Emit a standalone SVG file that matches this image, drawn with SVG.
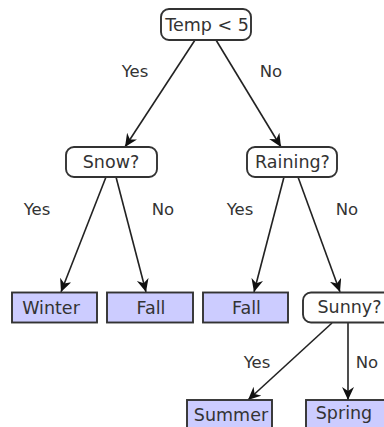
<svg xmlns="http://www.w3.org/2000/svg" width="384" height="427" viewBox="0 0 384 427">
<defs>
<style>
.dec{fill:#ffffff;stroke:#333333;stroke-width:1.9}
.leaf{fill:#ccccff;stroke:#333333;stroke-width:1.9}
text{font-family:"DejaVu Sans","Bitstream Vera Sans",sans-serif;font-size:17.5px;fill:#333333;text-anchor:middle;dominant-baseline:central}
.lbl{font-size:16.5px}
.edge{stroke:#222222;stroke-width:1.6;fill:none;marker-end:url(#ah)}
</style>
<marker id="ah" markerWidth="16" markerHeight="14" refX="13" refY="6" orient="auto" markerUnits="userSpaceOnUse">
<path d="M0,0 L13,6 L0,12 L4,6 z" fill="#111111"/>
</marker>
</defs>
<rect width="384" height="427" fill="#ffffff"/>
<g id="connectors">
<line class="edge" x1="195" y1="40" x2="125" y2="147"/>
<line class="edge" x1="216" y1="40" x2="281" y2="147"/>
<line class="edge" x1="106" y1="177" x2="61" y2="292"/>
<line class="edge" x1="116" y1="177" x2="146" y2="292"/>
<line class="edge" x1="284" y1="177" x2="254" y2="292"/>
<line class="edge" x1="298" y1="177" x2="340" y2="292"/>
<line class="edge" x1="332" y1="323" x2="248" y2="400"/>
<line class="edge" x1="348" y1="323" x2="348" y2="400"/>
<text class="lbl" x="135" y="71">Yes</text>
<text class="lbl" x="271" y="71">No</text>
<text class="lbl" x="37" y="209">Yes</text>
<text class="lbl" x="163" y="209">No</text>
<text class="lbl" x="240" y="209">Yes</text>
<text class="lbl" x="347" y="209">No</text>
<text class="lbl" x="257" y="362">Yes</text>
<text class="lbl" x="367" y="362">No</text>
</g>
<g id="temp">
<rect class="dec" x="161" y="9" width="90" height="31" rx="8"/>
<text x="207" y="24.5">Temp &lt; 5</text>
</g>
<g id="snow">
<rect class="dec" x="66" y="147" width="91" height="30" rx="8"/>
<text x="111" y="162">Snow?</text>
</g>
<g id="raining">
<rect class="dec" x="247" y="147" width="90" height="30" rx="8"/>
<text x="292.5" y="162">Raining?</text>
</g>
<g id="winter">
<rect class="leaf" x="12" y="292.5" width="85" height="30"/>
<text x="51" y="308">Winter</text>
</g>
<g id="fall1">
<rect class="leaf" x="107" y="292.5" width="86" height="30"/>
<text x="151" y="308">Fall</text>
</g>
<g id="fall2">
<rect class="leaf" x="203" y="292.5" width="85" height="30"/>
<text x="246.5" y="308">Fall</text>
</g>
<g id="sunny">
<rect class="dec" x="303" y="292.5" width="92" height="30" rx="8"/>
<text x="349.5" y="307">Sunny?</text>
</g>
<g id="summer">
<rect class="leaf" x="187" y="400" width="85" height="30"/>
<text x="231" y="415">Summer</text>
</g>
<g id="spring">
<rect class="leaf" x="306" y="400" width="86" height="30"/>
<text x="344" y="413">Spring</text>
</g>
</svg>
